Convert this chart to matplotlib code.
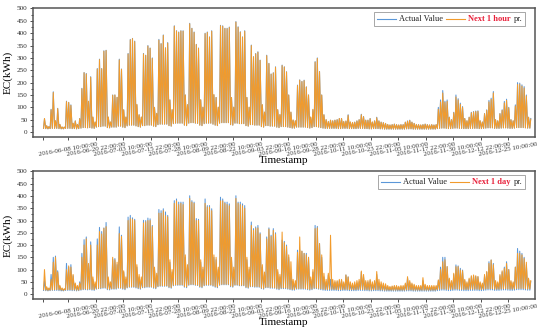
import numpy as np
import pandas as pd
import matplotlib
matplotlib.use("Agg")
import matplotlib.pyplot as plt
from matplotlib.offsetbox import AnchoredOffsetbox, HPacker, TextArea, DrawingArea
from matplotlib.lines import Line2D
from matplotlib.ticker import MultipleLocator

plt.rcParams['font.family'] = ['Liberation Serif', 'DejaVu Serif']

# ---------------- data (daily peak / trough, kWh) ----------------
start_date = "2016-05-28"
n_days = 222

hour_actual_peak = [
    53, 25, 22, 92, 163, 45, 96,
    30, 20, 20, 125, 120, 110, 35,
    45, 30, 55, 177, 241, 237, 123,
    224, 60, 40, 257, 295, 257, 329,
    331, 60, 40, 150, 150, 140, 295,
    255, 90, 60, 318, 375, 379, 368,
    110, 70, 60, 318, 311, 350, 340,
    300, 100, 75, 375, 358, 393, 341,
    362, 130, 90, 430, 410, 405, 410,
    410, 150, 110, 440, 420, 405, 355,
    340, 130, 100, 400, 405, 385, 410,
    150, 140, 100, 432, 430, 420, 420,
    425, 140, 100, 447, 426, 406, 385,
    410, 140, 100, 352, 305, 318, 325,
    291, 110, 80, 311, 278, 235, 240,
    264, 90, 70, 271, 264, 244, 150,
    80, 48, 45, 190, 211, 205, 210,
    183, 150, 60, 90, 285, 300, 245,
    150, 70, 50, 42, 48, 45, 48,
    50, 55, 55, 42, 44, 70, 40,
    38, 40, 45, 50, 72, 63, 48,
    48, 55, 40, 45, 60, 45, 40,
    38, 35, 30, 28, 30, 32, 30,
    28, 30, 30, 40, 45, 48, 40,
    35, 30, 30, 28, 30, 32, 30,
    28, 30, 28, 30, 100, 130, 168,
    125, 130, 60, 50, 80, 150, 135,
    117, 103, 55, 45, 60, 80, 83,
    85, 86, 45, 40, 75, 90, 128,
    137, 164, 50, 45, 75, 90, 124,
    133, 100, 50, 45, 110, 200, 198,
    191, 184, 150, 60, 55,
]

hour_pred_peak = [
    55, 26, 22, 90, 160, 46, 95,
    31, 21, 20, 123, 120, 108, 36,
    45, 31, 54, 175, 240, 235, 125,
    222, 61, 41, 255, 293, 256, 327,
    330, 61, 41, 149, 150, 141, 292,
    254, 90, 61, 316, 373, 378, 366,
    112, 70, 61, 316, 310, 348, 339,
    298, 100, 76, 372, 357, 391, 340,
    360, 130, 91, 428, 409, 403, 409,
    408, 150, 111, 438, 419, 403, 354,
    339, 131, 101, 398, 403, 384, 408,
    152, 140, 101, 430, 428, 419, 418,
    423, 140, 101, 445, 424, 404, 384,
    408, 140, 101, 350, 304, 316, 323,
    290, 111, 81, 309, 277, 234, 239,
    262, 91, 71, 269, 263, 243, 150,
    81, 49, 46, 188, 210, 204, 208,
    182, 150, 61, 92, 283, 298, 244,
    150, 70, 50, 43, 48, 46, 48,
    50, 55, 55, 43, 45, 68, 41,
    39, 40, 45, 50, 70, 62, 48,
    48, 54, 41, 45, 58, 45, 40,
    38, 35, 31, 29, 30, 32, 30,
    29, 30, 30, 40, 44, 47, 40,
    35, 31, 30, 29, 30, 32, 30,
    29, 30, 29, 30, 92, 122, 158,
    120, 124, 60, 50, 78, 142, 130,
    112, 100, 55, 46, 60, 78, 81,
    83, 84, 46, 41, 74, 88, 122,
    132, 158, 50, 46, 74, 88, 118,
    128, 98, 50, 46, 105, 192, 193,
    186, 178, 146, 60, 52,
]

actual_trough = [
    15, 14, 13, 14, 15, 15, 15,
    14, 13, 13, 15, 15, 15, 14,
    14, 13, 14, 16, 18, 18, 17,
    18, 16, 15, 20, 22, 22, 24,
    24, 18, 17, 20, 20, 20, 24,
    24, 20, 18, 25, 28, 28, 28,
    25, 22, 20, 26, 26, 28, 28,
    28, 24, 22, 30, 32, 32, 32,
    32, 26, 24, 34, 36, 36, 36,
    36, 28, 26, 36, 38, 38, 36,
    35, 28, 26, 34, 36, 36, 36,
    32, 28, 26, 36, 38, 38, 38,
    38, 30, 28, 36, 36, 34, 34,
    34, 26, 24, 30, 30, 28, 28,
    28, 22, 20, 26, 26, 24, 24,
    24, 20, 18, 22, 22, 22, 20,
    18, 16, 16, 20, 20, 20, 20,
    20, 18, 16, 18, 22, 22, 20,
    18, 16, 15, 15, 15, 15, 15,
    15, 14, 14, 15, 15, 15, 14,
    14, 14, 14, 15, 15, 15, 14,
    14, 13, 13, 14, 14, 14, 13,
    13, 12, 12, 12, 12, 12, 12,
    12, 12, 12, 12, 13, 13, 13,
    12, 12, 12, 12, 12, 12, 12,
    12, 12, 12, 12, 14, 15, 16,
    16, 15, 14, 14, 15, 16, 16,
    15, 15, 14, 14, 14, 15, 15,
    15, 15, 14, 14, 15, 16, 17,
    17, 17, 15, 15, 15, 16, 17,
    17, 16, 15, 15, 16, 18, 18,
    18, 18, 17, 16, 16,
]

day_actual_peak = [
    55, 25, 22, 80, 150, 155, 95,
    30, 20, 20, 125, 110, 120, 75,
    40, 30, 50, 166, 222, 233, 120,
    213, 60, 40, 225, 272, 255, 270,
    292, 60, 40, 143, 145, 120, 274,
    240, 90, 60, 314, 321, 311, 305,
    110, 70, 60, 301, 300, 310, 307,
    280, 100, 75, 345, 340, 348, 335,
    321, 130, 90, 381, 388, 375, 375,
    375, 150, 110, 401, 381, 375, 308,
    305, 130, 100, 388, 361, 361, 348,
    150, 140, 100, 395, 388, 375, 375,
    368, 140, 100, 401, 375, 375, 368,
    361, 140, 100, 294, 267, 274, 280,
    250, 110, 80, 233, 270, 240, 267,
    250, 90, 70, 220, 215, 200, 150,
    80, 48, 45, 179, 180, 175, 166,
    166, 150, 60, 90, 280, 276, 206,
    150, 70, 50, 78, 60, 45, 48,
    50, 55, 55, 42, 78, 70, 40,
    38, 40, 45, 50, 90, 70, 48,
    48, 55, 40, 45, 80, 45, 40,
    38, 35, 30, 28, 30, 32, 30,
    28, 30, 30, 40, 65, 48, 40,
    35, 30, 30, 28, 55, 32, 30,
    28, 30, 28, 30, 55, 110, 150,
    150, 112, 60, 50, 80, 119, 115,
    105, 98, 55, 45, 60, 71, 75,
    72, 70, 45, 40, 75, 90, 132,
    139, 125, 50, 45, 75, 90, 110,
    132, 100, 50, 45, 110, 186, 175,
    166, 150, 120, 60, 51,
]

day_pred_peak = [
    100, 30, 25, 60, 130, 150, 90,
    35, 25, 22, 100, 115, 110, 80,
    45, 35, 45, 150, 200, 225, 125,
    200, 70, 50, 200, 255, 245, 268,
    275, 70, 50, 150, 140, 130, 247,
    235, 95, 70, 300, 308, 305, 300,
    120, 80, 70, 290, 295, 300, 300,
    275, 110, 85, 330, 330, 340, 320,
    315, 140, 100, 370, 380, 365, 370,
    365, 160, 120, 390, 375, 370, 300,
    300, 140, 110, 370, 355, 355, 340,
    160, 150, 110, 380, 380, 370, 365,
    360, 150, 110, 390, 370, 365, 360,
    350, 150, 110, 280, 260, 268, 270,
    245, 120, 90, 225, 265, 235, 260,
    245, 100, 80, 253, 210, 195, 160,
    132, 60, 55, 170, 233, 175, 166,
    160, 150, 70, 100, 267, 270, 206,
    160, 85, 60, 85, 240, 60, 55,
    55, 60, 60, 50, 78, 70, 50,
    45, 50, 55, 60, 94, 80, 55,
    55, 60, 50, 55, 92, 60, 50,
    45, 42, 35, 31, 33, 35, 35,
    32, 35, 35, 45, 71, 55, 45,
    40, 35, 35, 35, 67, 40, 35,
    35, 35, 35, 35, 58, 100, 132,
    140, 112, 65, 55, 85, 112, 112,
    98, 95, 60, 50, 65, 75, 78,
    75, 72, 50, 45, 80, 92, 125,
    139, 120, 55, 50, 80, 95, 105,
    125, 100, 55, 50, 110, 166, 166,
    160, 145, 130, 65, 55,
]

day_pred_trough = [
    18, 16, 15, 16, 17, 18, 18,
    17, 16, 15, 17, 18, 18, 17,
    17, 16, 16, 18, 20, 21, 20,
    21, 19, 18, 22, 24, 25, 26,
    27, 21, 20, 22, 22, 23, 26,
    26, 23, 21, 27, 30, 30, 30,
    28, 25, 23, 28, 29, 30, 30,
    30, 27, 25, 32, 34, 34, 34,
    34, 29, 27, 36, 38, 38, 38,
    38, 31, 29, 38, 40, 40, 38,
    37, 31, 29, 36, 38, 38, 38,
    35, 31, 29, 38, 40, 40, 40,
    40, 33, 31, 38, 38, 36, 36,
    36, 29, 27, 32, 32, 31, 31,
    30, 25, 23, 28, 28, 27, 27,
    26, 23, 21, 25, 25, 25, 23,
    21, 19, 19, 23, 23, 23, 23,
    23, 21, 19, 21, 25, 25, 23,
    22, 20, 19, 19, 20, 20, 19,
    19, 18, 18, 19, 19, 19, 18,
    18, 18, 18, 19, 19, 19, 18,
    18, 17, 17, 18, 18, 18, 17,
    17, 16, 16, 16, 16, 16, 16,
    16, 16, 16, 16, 17, 17, 17,
    16, 16, 16, 16, 16, 16, 16,
    16, 16, 16, 16, 18, 20, 21,
    21, 20, 19, 19, 20, 21, 21,
    20, 20, 19, 19, 19, 20, 20,
    20, 20, 19, 19, 20, 21, 22,
    22, 22, 20, 20, 20, 21, 22,
    22, 21, 20, 20, 21, 23, 23,
    23, 23, 22, 21, 21,
]

tick_times = ["2016-05-27 22:00:00", "2016-06-08 10:00:00", "2016-06-20 22:00:00",
              "2016-07-03 10:00:00", "2016-07-15 22:00:00", "2016-07-28 10:00:00",
              "2016-08-09 22:00:00", "2016-08-22 10:00:00", "2016-09-03 22:00:00",
              "2016-09-16 10:00:00", "2016-09-28 22:00:00", "2016-10-11 10:00:00",
              "2016-10-23 22:00:00", "2016-11-05 10:00:00", "2016-11-17 22:00:00",
              "2016-11-30 10:00:00", "2016-12-12 22:00:00", "2016-12-25 10:00:00"]
tick_labels = [""] + tick_times[1:]

BLUE = "#5b97d8"
ORANGE = "#f29b2c"
RED = "#e8203a"

days = pd.date_range(start_date, periods=n_days, freq="D")


def zigzag(peaks, troughs):
    t = np.empty(2 * n_days, dtype="datetime64[ns]")
    t[0::2] = (days + pd.Timedelta(hours=4)).values
    t[1::2] = (days + pd.Timedelta(hours=14)).values
    v = np.empty(2 * n_days)
    v[0::2] = troughs
    v[1::2] = peaks
    return t, v


fig = plt.figure(figsize=(5.5, 3.33), dpi=100)
W, H = 550.0, 333.0
ax1 = fig.add_axes([33 / W, 1 - 137 / H, 502 / W, 129 / H])
ax2 = fig.add_axes([33 / W, 1 - 299 / H, 502 / W, 128 / H])

t0 = pd.Timestamp(tick_times[0])
xmin = t0 - pd.Timedelta(days=4.55)
xmax = t0 + pd.Timedelta(days=223.6)


def style(ax):
    ax.set_xlim(xmin, xmax)
    ax.set_ylim(-20, 502)
    ax.yaxis.set_major_locator(MultipleLocator(50))
    ax.yaxis.set_minor_locator(MultipleLocator(25))
    ax.set_xticks(pd.to_datetime(tick_times))
    ax.set_xticklabels(tick_labels, rotation=10, ha="center", fontsize=5)
    ax.tick_params(axis="y", labelsize=5.2, direction="out", length=2.5, width=0.6, pad=1.5, colors="#333333")
    ax.tick_params(axis="y", which="minor", length=1.5, width=0.5)
    ax.tick_params(axis="x", direction="out", length=2.5, width=0.6, pad=1, colors="#333333")
    for s in ax.spines.values():
        s.set_color("#555555")
        s.set_linewidth(1.1)
    ax.set_ylabel("EC(kWh)", fontsize=8, labelpad=3)
    ax.set_xlabel("Timestamp", fontsize=8, labelpad=-1)


def legend(ax, pred_word):
    def handle(color):
        da = DrawingArea(14, 5, 0, 0)
        da.add_artist(Line2D([0, 14], [2.5, 2.5], color=color, lw=0.8))
        return da
    fs = 6
    items = [handle(BLUE),
             TextArea("Actual Value", textprops=dict(fontsize=fs, color="#222222")),
             handle(ORANGE),
             HPacker(children=[TextArea(pred_word, textprops=dict(fontsize=fs, color=RED, fontweight="bold")),
                               TextArea("pr.", textprops=dict(fontsize=fs, color="#222222"))],
                     sep=2, pad=0, align="baseline")]
    box = HPacker(children=items, sep=2, pad=0, align="center")
    ab = AnchoredOffsetbox(loc="upper right", child=box, pad=0.2, borderpad=0,
                           frameon=True, bbox_to_anchor=(0.98, 0.969),
                           bbox_transform=ax.transAxes)
    ab.patch.set_edgecolor("#999999")
    ab.patch.set_linewidth(0.6)
    ax.add_artist(ab)


LW = 0.75
t, v = zigzag(hour_actual_peak, actual_trough)
ax1.plot(t, v, color=BLUE, lw=LW)
t, v = zigzag(hour_pred_peak, actual_trough)
ax1.plot(t, v, color=ORANGE, lw=LW)
style(ax1)
legend(ax1, "Next 1 hour")

t, v = zigzag(day_actual_peak, actual_trough)
ax2.plot(t, v, color=BLUE, lw=LW)
t, v = zigzag(day_pred_peak, day_pred_trough)
ax2.plot(t, v, color=ORANGE, lw=LW)
style(ax2)
legend(ax2, "Next 1 day")

fig.savefig("out.png", dpi=100)
